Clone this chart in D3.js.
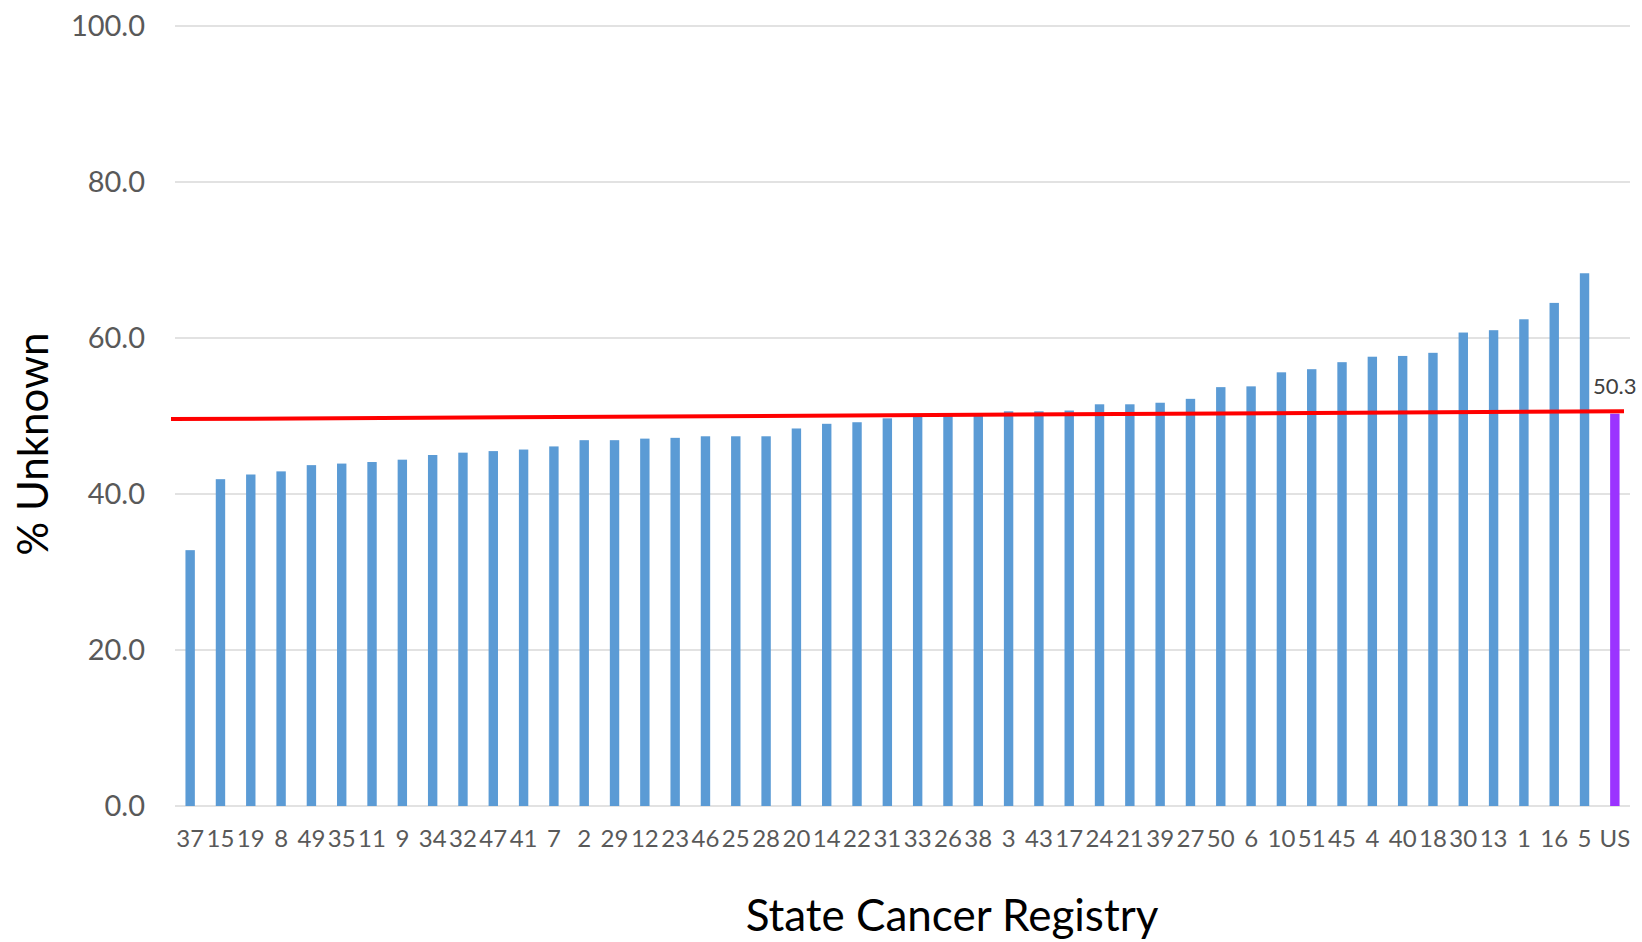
<!DOCTYPE html>
<html>
<head>
<meta charset="utf-8">
<script src="https://cdn.jsdelivr.net/npm/d3@7"></script>
<style>
  body { margin: 0; background: #fff; }
  svg { display: block; font-family: Lato, 'Open Sans', sans-serif; }
</style>
</head>
<body>
<svg></svg>
<script>
let width = 1642;
let height = 942;

// registries sorted by % unknown, US total last
let registries = ['37', '15', '19', '8', '49', '35', '11', '9', '34', '32', '47', '41', '7', '2', '29', '12',
  '23', '46', '25', '28', '20', '14', '22', '31', '33', '26', '38', '3', '43', '17', '24', '21',
  '39', '27', '50', '6', '10', '51', '45', '4', '40', '18', '30', '13', '1', '16', '5', 'US'];

let pctUnknown = [32.8, 41.9, 42.5, 42.9, 43.7, 43.9, 44.1, 44.4, 45.0, 45.3, 45.5, 45.7, 46.1, 46.9, 46.9, 47.1,
  47.2, 47.4, 47.4, 47.4, 48.4, 49.0, 49.2, 49.7, 50.0, 50.0, 50.0, 50.6, 50.6, 50.7, 51.5, 51.5,
  51.7, 52.2, 53.7, 53.8, 55.6, 56.0, 56.9, 57.6, 57.7, 58.1, 60.7, 61.0, 62.4, 64.5, 68.3, 50.3];

// red reference line, value at left and right end
let refLine = [49.6, 50.6];

let yTicks = [0, 20, 40, 60, 80, 100];

let data = registries.map((r, i) => ({ name: r, value: pctUnknown[i] }));

let margin = { top: 26, right: 12, bottom: 136, left: 175 };

let svg = d3.select('svg').attr('width', width).attr('height', height);

let x = d3
  .scaleBand()
  .domain(registries)
  .range([margin.left, width - margin.right])
  .paddingInner(0.69)
  .paddingOuter(0.345);

let y = d3
  .scaleLinear()
  .domain([0, 100])
  .range([height - margin.bottom, margin.top]);

// gridlines
svg
  .append('g')
  .selectAll('line')
  .data(yTicks)
  .enter()
  .append('line')
  .attr('x1', x.range()[0])
  .attr('x2', x.range()[1])
  .attr('y1', (d) => y(d))
  .attr('y2', (d) => y(d))
  .attr('stroke', '#d9d9d9')
  .attr('stroke-width', 1.5);

// y axis labels
let yAxis = svg
  .append('g')
  .attr('transform', `translate(${margin.left - 30},0)`)
  .call(d3.axisLeft(y).tickValues(yTicks).tickFormat(d3.format('.1f')).tickSize(0).tickPadding(0));
yAxis.select('.domain').remove();
yAxis.selectAll('text').attr('font-size', 29).attr('fill', '#595959').attr('font-family', 'Lato, sans-serif');

// bars
svg
  .append('g')
  .selectAll('rect')
  .data(data)
  .enter()
  .append('rect')
  .attr('x', (d) => x(d.name))
  .attr('width', x.bandwidth())
  .attr('y', (d) => y(d.value))
  .attr('height', (d) => y(0) - y(d.value))
  .attr('fill', (d) => (d.name === 'US' ? '#9b33ff' : '#5b9bd5'));

// x axis labels
let xAxis = svg
  .append('g')
  .attr('transform', `translate(0,${y(0)})`)
  .call(d3.axisBottom(x).tickSize(0).tickPadding(24));
xAxis.select('.domain').remove();
xAxis.selectAll('text').attr('font-size', 24).attr('fill', '#595959').attr('font-family', 'Lato, sans-serif');

// red line
let xLine = d3.scaleLinear().domain([0, 1]).range([x.range()[0] - 4, x.range()[1] - 6]);
svg
  .append('line')
  .attr('x1', xLine(0))
  .attr('x2', xLine(1))
  .attr('y1', y(refLine[0]))
  .attr('y2', y(refLine[1]))
  .attr('stroke', '#ff0000')
  .attr('stroke-width', 4);

// US data label
let us = data[data.length - 1];
svg
  .append('text')
  .attr('x', x(us.name) + x.bandwidth() / 2)
  .attr('y', y(us.value) - 20)
  .attr('text-anchor', 'middle')
  .attr('font-size', 22)
  .attr('fill', '#404040')
  .text(us.value.toFixed(1));

// axis titles
svg
  .append('text')
  .attr('transform', `translate(48,${(y(0) + y(100)) / 2 + 28}) rotate(-90)`)
  .attr('text-anchor', 'middle')
  .attr('font-size', 42)
  .attr('fill', '#000')
  .text('% Unknown');

svg
  .append('text')
  .attr('x', 952)
  .attr('y', 931)
  .attr('text-anchor', 'middle')
  .attr('font-size', 44)
  .attr('fill', '#000')
  .text('State Cancer Registry');
</script>
</body>
</html>
